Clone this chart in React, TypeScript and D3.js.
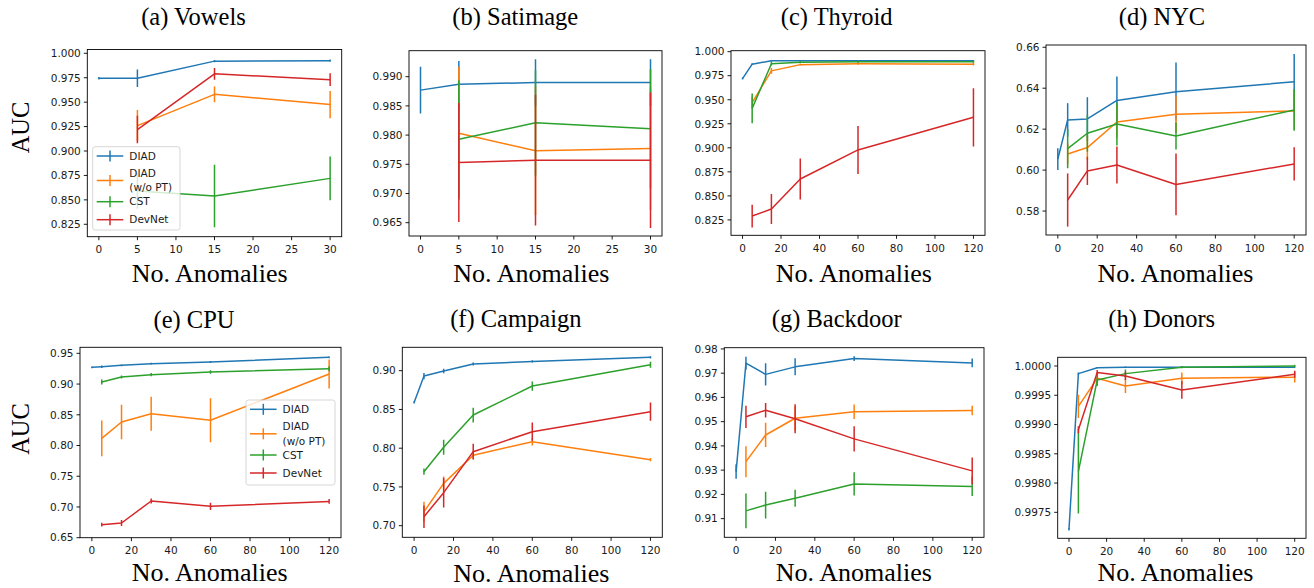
import React from 'react';
import * as d3 from 'd3';

// ---------- data ----------
const SERIES_NAMES = ['DIAD', 'DIAD\n(w/o PT)', 'CST', 'DevNet'];
const SERIES_COLORS = ['#1f77b4', '#ff7f0e', '#2ca02c', '#d62728'];

const xSmall = [0, 5, 15, 30];
const xLarge = [0, 5, 15, 30, 60, 120];
const xTicksSmall = [0, 5, 10, 15, 20, 25, 30];
const xTicksLarge = [0, 20, 40, 60, 80, 100, 120];

// (a) Vowels
const vowelsDIAD = [0.9745, 0.9745, 0.992, 0.9925];
const vowelsDIADErr = [0.0012, 0.009, 0.0012, 0.0012];
const vowelsNoPT = [null, 0.926, 0.958, 0.9475];
const vowelsNoPTErr = [null, 0.016, 0.008, 0.014];
const vowelsCST = [null, 0.859, 0.854, 0.872];
const vowelsCSTErr = [null, 0.018, 0.032, 0.0223];
const vowelsDevNet = [null, 0.922, 0.979, 0.973];
const vowelsDevNetErr = [null, 0.014, 0.006, 0.0065];
const vowelsYTicks = [0.825, 0.85, 0.875, 0.9, 0.925, 0.95, 0.975, 1.0];

// (b) Satimage
const satDIAD = [0.9877, 0.9887, 0.989, 0.989];
const satDIADErr = [0.004, 0.004, 0.004, 0.004];
const satNoPT = [null, 0.9803, 0.9773, 0.9777];
const satNoPTErr = [null, 0.0114, 0.011, 0.0105];
const satCST = [null, 0.9793, 0.9821, 0.9811];
const satCSTErr = [null, 0.0101, 0.009, 0.0102];
const satDevNet = [null, 0.9753, 0.9757, 0.9757];
const satDevNetErr = [null, 0.0102, 0.0112, 0.0116];
const satYTicks = [0.965, 0.97, 0.975, 0.98, 0.985, 0.99];

// (c) Thyroid
const thyDIAD = [0.972, 0.987, 0.9905, 0.9905, 0.9905, 0.9905];
const thyDIADErr = [0.001, 0.001, 0.0008, 0.0008, 0.0008, 0.0008];
const thyNoPT = [null, 0.947, 0.98, 0.9865, 0.9875, 0.987];
const thyNoPTErr = [null, 0.006, 0.003, 0.001, 0.001, 0.0015];
const thyCST = [null, 0.941, 0.9875, 0.989, 0.9895, 0.9895];
const thyCSTErr = [null, 0.0155, 0.002, 0.001, 0.001, 0.001];
const thyDevNet = [null, 0.829, 0.8364, 0.8676, 0.8978, 0.9317];
const thyDevNetErr = [null, 0.0118, 0.0156, 0.0213, 0.025, 0.0303];
const thyYTicks = [0.825, 0.85, 0.875, 0.9, 0.925, 0.95, 0.975, 1.0];

// (d) NYC
const nycDIAD = [0.6054, 0.6245, 0.625, 0.634, 0.6383, 0.6431];
const nycDIADErr = [0.0053, 0.0082, 0.0106, 0.0117, 0.0142, 0.0136];
const nycNoPT = [null, 0.6079, 0.611, 0.6235, 0.6273, 0.6289];
const nycNoPTErr = [null, 0.005, 0.006, 0.008, 0.009, 0.009];
const nycCST = [null, 0.6105, 0.618, 0.6225, 0.6167, 0.6294];
const nycCSTErr = [null, 0.0096, 0.009, 0.0105, 0.0067, 0.0102];
const nycDevNet = [null, 0.5854, 0.5996, 0.6025, 0.593, 0.603];
const nycDevNetErr = [null, 0.013, 0.0069, 0.009, 0.0151, 0.0081];
const nycYTicks = [0.58, 0.6, 0.62, 0.64, 0.66];

// (e) CPU
const cpuDIAD = [0.9272, 0.9283, 0.9305, 0.9332, 0.9359, 0.9435];
const cpuDIADErr = [0.0015, 0.002, 0.0015, 0.0015, 0.0015, 0.0015];
const cpuNoPT = [null, 0.8117, 0.8383, 0.8518, 0.841, 0.9164];
const cpuNoPTErr = [null, 0.029, 0.028, 0.0277, 0.0358, 0.0236];
const cpuCST = [null, 0.9033, 0.9115, 0.9153, 0.9196, 0.925];
const cpuCSTErr = [null, 0.004, 0.0025, 0.0025, 0.003, 0.004];
const cpuDevNet = [null, 0.6712, 0.6739, 0.7097, 0.701, 0.7091];
const cpuDevNetErr = [null, 0.003, 0.005, 0.004, 0.006, 0.004];
const cpuYTicks = [0.65, 0.7, 0.75, 0.8, 0.85, 0.9, 0.95];

// (f) Campaign
const camDIAD = [0.8591, 0.8931, 0.8996, 0.9086, 0.912, 0.9172];
const camDIADErr = [0.0015, 0.004, 0.003, 0.002, 0.0015, 0.0015];
const camNoPT = [null, 0.718, 0.7546, 0.7908, 0.8084, 0.7852];
const camNoPTErr = [null, 0.013, 0.009, 0.005, 0.005, 0.002];
const camCST = [null, 0.7697, 0.8011, 0.8428, 0.8802, 0.9077];
const camCSTErr = [null, 0.004, 0.0097, 0.0095, 0.006, 0.004];
const camDevNet = [null, 0.7116, 0.7426, 0.7955, 0.8213, 0.8471];
const camDevNetErr = [null, 0.0146, 0.019, 0.0101, 0.0118, 0.0118];
const camYTicks = [0.7, 0.75, 0.8, 0.85, 0.9];

// (g) Backdoor
const bdDIAD = [0.9294, 0.9741, 0.9695, 0.9726, 0.976, 0.9742];
const bdDIADErr = [0.003, 0.0027, 0.0046, 0.0035, 0.001, 0.0018];
const bdNoPT = [null, 0.9335, 0.9445, 0.9514, 0.9541, 0.9546];
const bdNoPTErr = [null, 0.0064, 0.005, 0.005, 0.003, 0.002];
const bdCST = [null, 0.9132, 0.9156, 0.9184, 0.9243, 0.9233];
const bdCSTErr = [null, 0.0072, 0.0055, 0.0035, 0.0048, 0.004];
const bdDevNet = [null, 0.952, 0.9547, 0.9512, 0.9429, 0.9297];
const bdDevNetErr = [null, 0.0046, 0.003, 0.006, 0.0052, 0.0055];
const bdYTicks = [0.91, 0.92, 0.93, 0.94, 0.95, 0.96, 0.97, 0.98];

// (h) Donors
const donDIAD = [0.99721, 0.99987, 0.99997, 0.99998, 0.99998, 0.99998];
const donDIADErr = [0.00002, 0.00002, 0.00001, 0.00001, 0.00001, 0.00001];
const donNoPT = [null, 0.99931, 0.99979, 0.99966, 0.99979, 0.99981];
const donNoPTErr = [null, 0.0002, 0.00005, 0.00012, 0.0001, 0.00009];
const donCST = [null, 0.9982, 0.99976, 0.99987, 0.99998, 1.0];
const donCSTErr = [null, 0.00072, 0.0001, 0.00007, 0.00002, 0.00002];
const donDevNet = [null, 0.99891, 0.99989, 0.99983, 0.99959, 0.99986];
const donDevNetErr = [null, 0.00006, 0.00004, 0.00007, 0.00015, 0.00006];
const donYTicks = [0.9975, 0.998, 0.9985, 0.999, 0.9995, 1.0];

// ---------- layout ----------
type Cfg = {
  title: string;
  titleX: number; titleY: number;
  box: [number, number, number, number];
  xDomain: [number, number]; yDomain: [number, number];
  xs: number[]; xTicks: number[]; yTicks: number[]; yFmt: string;
  means: (number | null)[][]; errs: (number | null)[][];
  xLabelX: number; xLabelY: number;
  yLabel?: [number, number];
  legend?: [number, number, number, number];
};

const panels: Cfg[] = [
  { title: '(a) Vowels', titleX: 193.5, titleY: 25, box: [87.3, 49.5, 341.7, 236.7], xDomain: [-1.5, 31.5], yDomain: [0.8123, 1.0039],
    xs: xSmall, xTicks: xTicksSmall, yTicks: vowelsYTicks, yFmt: '.3f',
    means: [vowelsDIAD, vowelsNoPT, vowelsCST, vowelsDevNet], errs: [vowelsDIADErr, vowelsNoPTErr, vowelsCSTErr, vowelsDevNetErr],
    xLabelX: 209.7, xLabelY: 281.7, yLabel: [20, 127.5], legend: [92.7, 146.7, 87.3, 83.3] },
  { title: '(b) Satimage', titleX: 515.3, titleY: 25, box: [409, 50.7, 662, 236], xDomain: [-1.5, 31.5], yDomain: [0.96272, 0.99445],
    xs: xSmall, xTicks: xTicksSmall, yTicks: satYTicks, yFmt: '.3f',
    means: [satDIAD, satNoPT, satCST, satDevNet], errs: [satDIADErr, satNoPTErr, satCSTErr, satDevNetErr],
    xLabelX: 531.3, xLabelY: 281.7 },
  { title: '(c) Thyroid', titleX: 836.7, titleY: 25, box: [731, 50.7, 985, 235.3], xDomain: [-6, 126], yDomain: [0.809, 1.001],
    xs: xLarge, xTicks: xTicksLarge, yTicks: thyYTicks, yFmt: '.3f',
    means: [thyDIAD, thyNoPT, thyCST, thyDevNet], errs: [thyDIADErr, thyNoPTErr, thyCSTErr, thyDevNetErr],
    xLabelX: 853.8, xLabelY: 281.7 },
  { title: '(d) NYC', titleX: 1162, titleY: 25, box: [1046, 45, 1306, 235], xDomain: [-6, 126], yDomain: [0.5683, 0.6611],
    xs: xLarge, xTicks: xTicksLarge, yTicks: nycYTicks, yFmt: '.2f',
    means: [nycDIAD, nycNoPT, nycCST, nycDevNet], errs: [nycDIADErr, nycNoPTErr, nycCSTErr, nycDevNetErr],
    xLabelX: 1175.5, xLabelY: 281.7 },
  { title: '(e) CPU', titleX: 194, titleY: 328.3, box: [80, 347.3, 341, 537.7], xDomain: [-6, 126], yDomain: [0.65, 0.9598],
    xs: xLarge, xTicks: xTicksLarge, yTicks: cpuYTicks, yFmt: '.2f',
    means: [cpuDIAD, cpuNoPT, cpuCST, cpuDevNet], errs: [cpuDIADErr, cpuNoPTErr, cpuCSTErr, cpuDevNetErr],
    xLabelX: 209.7, xLabelY: 581, yLabel: [20, 429], legend: [246, 400, 89, 85] },
  { title: '(f) Campaign', titleX: 515.8, titleY: 327.3, box: [402.3, 347.3, 662.3, 537.3], xDomain: [-6, 126], yDomain: [0.685, 0.9302],
    xs: xLarge, xTicks: xTicksLarge, yTicks: camYTicks, yFmt: '.2f',
    means: [camDIAD, camNoPT, camCST, camDevNet], errs: [camDIADErr, camNoPTErr, camCSTErr, camDevNetErr],
    xLabelX: 531.3, xLabelY: 581.5 },
  { title: '(g) Backdoor', titleX: 836.7, titleY: 327.3, box: [724.3, 347.7, 984, 537.3], xDomain: [-6, 126], yDomain: [0.9023, 0.9805],
    xs: xLarge, xTicks: xTicksLarge, yTicks: bdYTicks, yFmt: '.2f',
    means: [bdDIAD, bdNoPT, bdCST, bdDevNet], errs: [bdDIADErr, bdNoPTErr, bdCSTErr, bdDevNetErr],
    xLabelX: 853.8, xLabelY: 581 },
  { title: '(h) Donors', titleX: 1161.7, titleY: 327.3, box: [1057.7, 357.3, 1306, 538.3], xDomain: [-6, 126], yDomain: [0.997056, 1.000149],
    xs: xLarge, xTicks: xTicksLarge, yTicks: donYTicks, yFmt: '.4f',
    means: [donDIAD, donNoPT, donCST, donDevNet], errs: [donDIADErr, donNoPTErr, donCSTErr, donDevNetErr],
    xLabelX: 1175.5, xLabelY: 581 },
];

const SANS = '"DejaVu Sans", sans-serif';
const SERIF = '"Liberation Serif", "Times New Roman", serif';
const TICK_FS = 10.5;
const LW = 1.5;

function Legend({ spec }: { spec: [number, number, number, number] }) {
  const [lx, ly, w, h] = spec;
  const offs = [9.3, 33.8, 55, 73];
  return (
    <g>
      <rect x={lx} y={ly} width={w} height={h} rx={2.5} fill="white" fillOpacity={0.8} stroke="#cccccc" strokeWidth={0.8} />
      {SERIES_NAMES.map((name, i) => {
        const cy = ly + offs[i];
        const lines = name.split('\n');
        return (
          <g key={i}>
            <line x1={lx + 4} x2={lx + 30.6} y1={cy} y2={cy} stroke={SERIES_COLORS[i]} strokeWidth={LW} />
            <line x1={lx + 17.3} x2={lx + 17.3} y1={cy - 5.5} y2={cy + 5.5} stroke={SERIES_COLORS[i]} strokeWidth={LW} />
            {lines.map((t, j) => (
              <text key={j} x={lx + 36.6} y={cy + (j - (lines.length - 1) / 2) * 14.2} dy="0.36em"
                fontFamily={SANS} fontSize={TICK_FS} fill="#1a1a1a">{t}</text>
            ))}
          </g>
        );
      })}
    </g>
  );
}

function Panel({ cfg, idx }: { cfg: Cfg; idx: number }) {
  const [L, T, R, B] = cfg.box;
  const x = d3.scaleLinear().domain(cfg.xDomain).range([L, R]);
  const y = d3.scaleLinear().domain(cfg.yDomain).range([B, T]);
  const fmt = d3.format(cfg.yFmt);
  const clipId = `clip-${idx}`;
  return (
    <g>
      <defs>
        <clipPath id={clipId}><rect x={L} y={T} width={R - L} height={B - T} /></clipPath>
      </defs>
      <text x={cfg.titleX} y={cfg.titleY} textAnchor="middle" fontFamily={SERIF} fontSize={24.5} fill="#000">{cfg.title}</text>
      <g clipPath={`url(#${clipId})`}>
        {cfg.means.map((vals, si) => {
          const pts = cfg.xs.map((xv, k) => ({ xv, v: vals[k], e: cfg.errs[si][k] })).filter(p => p.v !== null) as { xv: number; v: number; e: number }[];
          const path = d3.line<{ xv: number; v: number }>().x(p => x(p.xv)).y(p => y(p.v))(pts) || '';
          return (
            <g key={si}>
              <path d={path} fill="none" stroke={SERIES_COLORS[si]} strokeWidth={LW} strokeLinejoin="round" />
              {pts.map((p, k) => (
                <line key={k} x1={x(p.xv)} x2={x(p.xv)} y1={y(p.v - p.e)} y2={y(p.v + p.e)} stroke={SERIES_COLORS[si]} strokeWidth={LW} />
              ))}
            </g>
          );
        })}
      </g>
      <rect x={L} y={T} width={R - L} height={B - T} fill="none" stroke="#000" strokeWidth={0.9} />
      {cfg.xTicks.map(t => (
        <g key={`x${t}`}>
          <line x1={x(t)} x2={x(t)} y1={B} y2={B + 3.5} stroke="#000" strokeWidth={0.9} />
          <text x={x(t)} y={B + 16.5} textAnchor="middle" fontFamily={SANS} fontSize={TICK_FS} fill="#1a1a1a">{t}</text>
        </g>
      ))}
      {cfg.yTicks.map(t => (
        <g key={`y${t}`}>
          <line x1={L - 3.5} x2={L} y1={y(t)} y2={y(t)} stroke="#000" strokeWidth={0.9} />
          <text x={L - 6.5} y={y(t)} dy="0.36em" textAnchor="end" fontFamily={SANS} fontSize={TICK_FS} fill="#1a1a1a">{fmt(t)}</text>
        </g>
      ))}
      <text x={cfg.xLabelX} y={cfg.xLabelY} textAnchor="middle" fontFamily={SERIF} fontSize={26} fill="#000">No. Anomalies</text>
      {cfg.yLabel && (
        <text transform={`translate(${cfg.yLabel[0]},${cfg.yLabel[1]}) rotate(-90)`} textAnchor="middle" dy="0.35em"
          fontFamily={SERIF} fontSize={24.5} fill="#000">AUC</text>
      )}
      {cfg.legend && <Legend spec={cfg.legend} />}
    </g>
  );
}

export default function App() {
  return (
    <svg width={1314} height={588} style={{ position: 'absolute', left: 0, top: 0, background: '#fff' }}>
      <rect x={0} y={0} width={1314} height={588} fill="#fff" />
      {panels.map((p, i) => <Panel key={i} cfg={p} idx={i} />)}
    </svg>
  );
}
